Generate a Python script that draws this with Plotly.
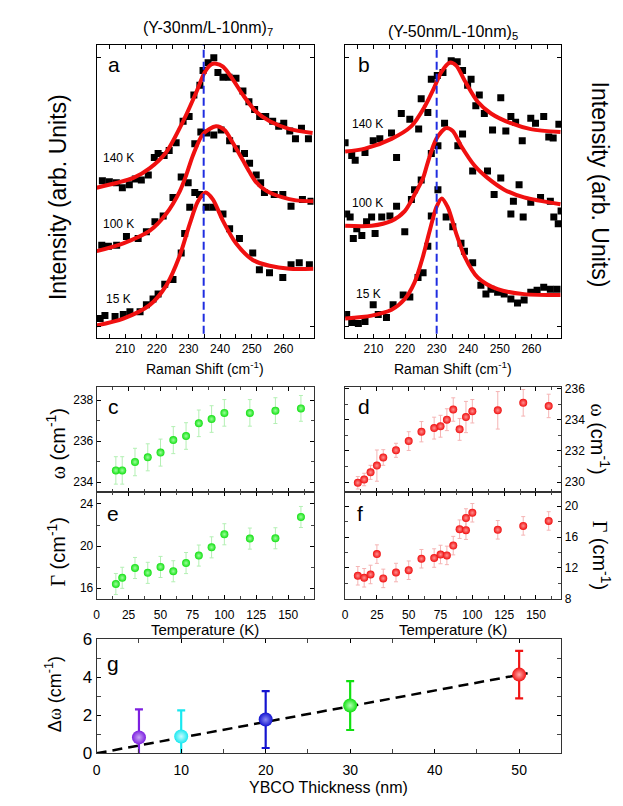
import plotly.graph_objects as go

# ---------------- data ----------------
# panel a : (Y-30nm/L-10nm)7 Raman spectra, offset vertically (arb. units)
a_x_140 = [202.8, 205.0, 207.2, 209.1, 211.3, 213.2, 215.1, 217.3, 219.2, 220.4, 222.3, 223.9,
           226.1, 228.3, 230.2, 231.7, 233.6, 234.6, 236.2, 238.0, 239.3, 240.9, 242.8, 245.0,
           247.2, 249.1, 250.9, 252.5, 254.4, 256.6, 258.5, 260.1, 262.0, 263.8, 265.7, 267.9]
a_y_140 = [1.49, 1.48, 1.47, 1.42, 1.45, 1.51, 1.50, 1.55, 1.73, 1.77, 1.75, 1.80,
           1.88, 2.10, 2.15, 2.37, 2.47, 2.62, 2.70, 2.75, 2.60, 2.55, 2.55, 2.54,
           2.41, 2.30, 2.22, 2.15, 2.15, 2.10, 2.05, 2.08, 2.00, 1.92, 2.03, 1.92]
a_x_100 = [202.6, 204.7, 207.3, 210.4, 214.1, 216.7, 219.4, 222.0, 225.1, 227.7, 229.9, 232.0,
           233.9, 235.8, 238.0, 240.3, 243.0, 245.1, 247.7, 249.3, 251.4, 252.8, 254.0, 257.1,
           259.8, 262.4, 266.0, 268.7]
a_y_100 = [0.83, 0.82, 0.83, 0.92, 0.90, 0.97, 1.07, 1.13, 1.32, 1.53, 1.47, 1.87,
           1.99, 1.98, 1.96, 2.01, 1.90, 1.82, 1.77, 1.67, 1.55, 1.47, 1.37, 1.35,
           1.35, 1.23, 1.30, 1.28]
a_x_15 = [202.1, 203.6, 206.8, 209.4, 211.5, 214.7, 216.7, 218.8, 220.4, 222.5, 225.1, 227.7,
          228.8, 230.4, 232.0, 233.5, 235.6, 237.7, 240.9, 243.0, 246.1, 250.3, 252.4, 255.6,
          259.8, 262.4, 265.0, 268.2]
a_y_15 = [0.08, 0.11, 0.10, 0.12, 0.15, 0.15, 0.22, 0.28, 0.33, 0.43, 0.48, 0.75,
          0.95, 1.22, 1.37, 1.35, 1.22, 1.22, 1.15, 1.00, 0.90, 0.75, 0.58, 0.55,
          0.50, 0.63, 0.65, 0.63]

a_fit_x_140 = [201.0, 212.6, 217.8, 222.9, 228.3, 232.5, 235.1, 237.1, 238.7, 240.9, 244.0,
               247.2, 251.3, 255.7, 262.0, 269.2]
a_fit_y_140 = [1.42, 1.52, 1.62, 1.78, 2.10, 2.40, 2.60, 2.68, 2.69, 2.66, 2.53,
               2.37, 2.20, 2.10, 2.02, 1.98]
a_fit_x_100 = [201.0, 209.4, 217.8, 222.9, 227.2, 229.3, 231.4, 234.6, 238.7, 241.4, 244.0,
               247.2, 249.3, 251.3, 254.5, 259.8, 264.0, 269.5]
a_fit_y_100 = [0.77, 0.85, 0.98, 1.15, 1.38, 1.55, 1.75, 1.97, 2.05, 2.01, 1.88,
               1.70, 1.58, 1.48, 1.39, 1.32, 1.29, 1.28]
a_fit_x_15 = [201.0, 209.4, 217.8, 223.0, 227.2, 230.4, 233.0, 235.4, 237.7, 240.9, 245.0,
              250.3, 255.6, 261.9, 269.5]
a_fit_y_15 = [0.01, 0.08, 0.22, 0.42, 0.72, 1.05, 1.28, 1.37, 1.30, 1.08, 0.85,
              0.68, 0.62, 0.59, 0.59]

# panel b : (Y-50nm/L-10nm)5
b_x_140 = [201.0, 203.1, 204.2, 207.3, 209.9, 212.0, 215.7, 217.3, 218.8, 221.5, 224.3, 225.1,
           227.2, 228.3, 230.2, 232.0, 234.6, 236.5, 238.2, 239.8, 240.9, 242.4, 243.5, 245.1,
           247.7, 250.3, 251.9, 253.5, 255.0, 257.1, 259.8, 261.3, 263.9, 265.5, 266.9, 268.7]
b_y_140 = [1.88, 1.75, 1.70, 1.78, 1.90, 1.92, 1.98, 1.73, 2.18, 2.12, 2.02, 2.33,
           2.19, 2.53, 2.57, 2.60, 2.72, 2.71, 2.62, 2.47, 2.53, 2.26, 2.37, 2.18,
           2.01, 2.34, 2.00, 2.15, 2.09, 1.90, 2.13, 2.08, 2.15, 1.94, 1.93, 2.07]
b_x_100 = [201.5, 202.6, 203.6, 204.7, 206.3, 207.8, 209.4, 210.5, 212.6, 215.2, 217.3, 219.9,
           222.0, 223.0, 225.1, 228.3, 230.4, 232.5, 236.7, 238.2, 241.4, 246.1, 248.2, 250.3,
           253.5, 254.3, 256.1, 257.4, 259.8, 262.9, 266.0, 267.1, 268.5, 269.4]
b_y_100 = [1.15, 1.12, 0.90, 1.00, 0.93, 1.07, 1.12, 0.95, 1.12, 1.13, 1.23, 0.97,
           1.30, 1.40, 1.50, 1.77, 1.85, 2.08, 1.85, 1.97, 1.59, 1.59, 1.35, 1.52,
           1.15, 1.28, 1.45, 1.12, 1.27, 1.32, 1.28, 1.12, 1.05, 1.18]
b_x_15 = [201.5, 203.1, 205.2, 207.3, 209.9, 211.5, 214.1, 216.2, 219.4, 221.5, 224.1, 225.7,
          227.2, 228.3, 230.4, 233.0, 235.1, 237.7, 238.8, 241.4, 244.0, 245.6, 247.2, 249.3,
          251.4, 253.5, 255.6, 257.7, 259.8, 261.8, 263.9, 266.0, 268.1]
b_y_15 = [0.12, 0.04, 0.03, 0.05, 0.22, 0.12, 0.09, 0.22, 0.32, 0.30, 0.50, 0.55,
          0.82, 1.13, 1.40, 1.12, 1.02, 0.85, 0.77, 0.65, 0.42, 0.33, 0.38, 0.35,
          0.33, 0.28, 0.24, 0.27, 0.35, 0.37, 0.40, 0.38, 0.38]

b_fit_x_140 = [201.0, 207.3, 215.7, 222.0, 226.2, 229.3, 231.4, 234.1, 236.2, 238.8, 243.0,
               247.2, 253.5, 259.8, 269.2]
b_fit_y_140 = [1.79, 1.82, 1.92, 2.05, 2.25, 2.45, 2.60, 2.70, 2.67, 2.52, 2.30,
               2.18, 2.08, 2.02, 1.99]
b_fit_x_100 = [201.0, 209.4, 215.7, 219.9, 223.0, 225.7, 227.2, 229.9, 233.0, 235.1, 237.7,
               241.9, 246.1, 251.4, 257.7, 269.2]
b_fit_y_100 = [1.03, 1.03, 1.08, 1.18, 1.35, 1.52, 1.68, 1.92, 2.03, 2.00, 1.85,
               1.65, 1.52, 1.40, 1.32, 1.25]
b_fit_x_15 = [201.0, 209.4, 215.7, 219.9, 223.0, 225.7, 227.8, 229.9, 231.6, 233.5, 236.2,
              238.8, 243.0, 249.3, 257.7, 269.2]
b_fit_y_15 = [0.08, 0.11, 0.17, 0.28, 0.45, 0.72, 0.98, 1.22, 1.31, 1.22, 0.95,
              0.72, 0.50, 0.38, 0.33, 0.32]

a_ref_line = 234.8   # blue dashed reference, panel a
b_ref_line = 230.0   # blue dashed reference, panel b

# panels c / e : Y-30nm sample
ce_temp = [15, 20, 30, 40, 50, 60, 70, 80, 90, 100, 120, 140, 160]
c_omega = [234.57, 234.57, 234.98, 235.21, 235.44, 236.05, 236.25, 236.87, 237.08, 237.38,
           237.38, 237.49, 237.60]
c_omega_err = [0.67, 0.67, 0.67, 0.66, 0.66, 0.66, 0.65, 0.65, 0.65, 0.65, 0.65, 0.63, 0.63]
e_gamma = [16.40, 16.99, 17.92, 17.46, 18.02, 17.61, 18.39, 19.10, 19.88, 21.12, 20.71, 20.74,
           22.76]
e_gamma_err = [1.0] * 13

# panels d / f : Y-50nm sample
d_temp = [10, 15, 20, 25, 30, 40, 50, 60, 70, 75, 80, 85, 90, 95, 100, 120, 140, 160]
d_omega = [229.96, 230.17, 230.63, 231.06, 231.58, 232.04, 232.63, 233.23, 233.46, 233.58,
           234.00, 234.65, 233.38, 234.17, 234.54, 234.60, 235.08, 234.88]
d_omega_err = [0.4, 0.4, 0.45, 1.0, 0.5, 0.45, 0.6, 0.65, 0.7, 0.7, 0.7, 0.75, 0.7, 1.0, 0.75,
               1.2, 0.85, 0.75]
f_temp = [10, 15, 20, 25, 30, 40, 50, 60, 70, 75, 80, 85, 90, 95, 95, 100, 120, 140, 160]
f_gamma = [10.98, 10.72, 11.15, 13.79, 10.64, 11.40, 11.70, 13.19, 13.28, 13.74, 13.62, 14.89,
           17.02, 18.47, 16.89, 19.15, 16.94, 17.45, 18.09]
f_gamma_err = [1.2] * 19

# panel g : phonon shift vs YBCO thickness
g_thick = [5, 10, 20, 30, 50]
g_shift = [0.84, 0.89, 1.78, 2.52, 4.15]
g_err = [1.48, 1.37, 1.50, 1.29, 1.25]
g_colors = ["#7d1fe0", "#19e8f0", "#1414d0", "#10e010", "#f01414"]
g_centers = ["#c9a6f5", "#c8fbff", "#8a8af5", "#b4ffb4", "#ffa8a8"]
g_fit_x = [0, 51]
g_fit_y = [0, 4.22]

# ---------------- layout helpers ----------------
W, H = 623, 806
def fx(p):
    return p / W
def fy(p):
    return 1 - p / H

FONT = "Liberation Sans, Arial, sans-serif"
tickfont = dict(family=FONT, size=12, color="black")

def frame(**kw):
    d = dict(showline=True, linecolor="black", linewidth=1, mirror="ticks",
             ticks="inside", ticklen=4, tickcolor="black", tickwidth=1,
             showgrid=False, zeroline=False, tickfont=tickfont)
    d.update(kw)
    return d

fig = go.Figure()

def spectra(xs, ys, xa, ya):
    fig.add_trace(go.Scatter(x=xs, y=ys, mode="markers", xaxis=xa, yaxis=ya,
                             marker=dict(symbol="square", size=7, color="black"),
                             showlegend=False))

def fit(xs, ys, xa, ya):
    fig.add_trace(go.Scatter(x=xs, y=ys, mode="lines", xaxis=xa, yaxis=ya,
                             line=dict(color="#f01010", width=4, shape="spline", smoothing=0.8),
                             showlegend=False))

spectra(a_x_140, a_y_140, "x", "y")
spectra(a_x_100, a_y_100, "x", "y")
spectra(a_x_15, a_y_15, "x", "y")
fit(a_fit_x_140, a_fit_y_140, "x", "y")
fit(a_fit_x_100, a_fit_y_100, "x", "y")
fit(a_fit_x_15, a_fit_y_15, "x", "y")

spectra(b_x_140, b_y_140, "x2", "y2")
spectra(b_x_100, b_y_100, "x2", "y2")
spectra(b_x_15, b_y_15, "x2", "y2")
fit(b_fit_x_140, b_fit_y_140, "x2", "y2")
fit(b_fit_x_100, b_fit_y_100, "x2", "y2")
fit(b_fit_x_15, b_fit_y_15, "x2", "y2")

for xv, xa, ya in [(a_ref_line, "x", "y"), (b_ref_line, "x2", "y2")]:
    fig.add_trace(go.Scatter(x=[xv, xv], y=[-0.2, 3.0], mode="lines", xaxis=xa, yaxis=ya,
                             line=dict(color="#1f2de0", width=2, dash="8px,4px"),
                             showlegend=False))

def dots(xs, ys, err, color, center, errcolor, xa, ya):
    fig.add_trace(go.Scatter(
        x=xs, y=ys, mode="markers", xaxis=xa, yaxis=ya, showlegend=False,
        marker=dict(size=8, color=color, line=dict(width=0),
                    gradient=dict(type="radial", color=center)),
        error_y=dict(type="data", array=err, color=errcolor, thickness=1, width=2)))

dots(ce_temp, c_omega, c_omega_err, "#14e014", "#9cff9c", "#b4f0b4", "x3", "y3")
dots(ce_temp, e_gamma, e_gamma_err, "#14e014", "#9cff9c", "#b4f0b4", "x5", "y5")
dots(d_temp, d_omega, d_omega_err, "#f01010", "#ff9090", "#f5b4b4", "x4", "y4")
dots(f_temp, f_gamma, f_gamma_err, "#f01010", "#ff9090", "#f5b4b4", "x6", "y6")

fig.add_trace(go.Scatter(x=g_fit_x, y=g_fit_y, mode="lines", xaxis="x7", yaxis="y7",
                         line=dict(color="black", width=2.5, dash="10px,6px"),
                         showlegend=False))
for t, s, e, c, cc in zip(g_thick, g_shift, g_err, g_colors, g_centers):
    fig.add_trace(go.Scatter(
        x=[t], y=[s], mode="markers", xaxis="x7", yaxis="y7", showlegend=False,
        marker=dict(size=14, color=c, line=dict(width=0),
                    gradient=dict(type="radial", color=cc)),
        error_y=dict(type="data", array=[e], color=c, thickness=2.2, width=4)))

spec_x = dict(range=[201, 269.5], tick0=200, dtick=10,
              minor=dict(dtick=5, ticks="inside", ticklen=4, tickcolor="black"))
spec_y = dict(range=[-0.12, 2.88], tickvals=[0, 2.75], showticklabels=False)
temp_x = dict(range=[0, 170], tick0=0, dtick=25,
              minor=dict(dtick=12.5, ticks="inside", ticklen=3, tickcolor="#444"))

fig.update_layout(
    width=W, height=H, margin=dict(l=0, r=0, t=0, b=0),
    paper_bgcolor="white", plot_bgcolor="white", showlegend=False,
    font=dict(family=FONT, color="black"),
    xaxis=frame(domain=[fx(93.3), fx(311.5)], anchor="y", **spec_x),
    yaxis=frame(domain=[fy(337), fy(37)], anchor="x", **spec_y),
    xaxis2=frame(domain=[fx(343.3), fx(561)], anchor="y2", **spec_x),
    yaxis2=frame(domain=[fy(337), fy(37)], anchor="x2", **spec_y),
    xaxis3=frame(domain=[fx(93.3), fx(311.7)], anchor="y3", matches="x5",
                 showticklabels=False, linecolor="#333", **temp_x),
    yaxis3=frame(domain=[fy(495), fy(387)], anchor="x3", range=[233.5, 238.65],
                 dtick=2, linecolor="#333",
                 minor=dict(dtick=1, ticks="inside", ticklen=3, tickcolor="#444")),
    xaxis5=frame(domain=[fx(93.3), fx(311.7)], anchor="y5", linecolor="#333",
                 ticklabelstandoff=5, **temp_x),
    yaxis5=frame(domain=[fy(604), fy(495)], anchor="x5", range=[15, 25.1],
                 tick0=0, dtick=4, linecolor="#333",
                 minor=dict(dtick=2, ticks="inside", ticklen=3, tickcolor="#444")),
    xaxis4=frame(domain=[fx(343.3), fx(561)], anchor="y4", matches="x6",
                 showticklabels=False, linecolor="#333", **temp_x),
    yaxis4=frame(domain=[fy(495), fy(387)], anchor="x4", side="right",
                 range=[229.35, 236.1], dtick=2, linecolor="#333",
                 minor=dict(dtick=1, ticks="inside", ticklen=3, tickcolor="#444")),
    xaxis6=frame(domain=[fx(343.3), fx(561)], anchor="y6", linecolor="#333",
                 ticklabelstandoff=5, **temp_x),
    yaxis6=frame(domain=[fy(604), fy(495)], anchor="x6", side="right",
                 range=[8, 21.8], tick0=0, dtick=4, linecolor="#333",
                 minor=dict(dtick=2, ticks="inside", ticklen=3, tickcolor="#444")),
    xaxis7=frame(domain=[fx(93.3), fx(561)], anchor="y7", range=[0, 55], dtick=10,
                 linecolor="#333", ticklabelstandoff=4,
                 tickfont=dict(family=FONT, size=14, color="black"),
                 minor=dict(dtick=5, ticks="inside", ticklen=4, tickcolor="#444")),
    yaxis7=frame(domain=[fy(762.3), fy(645.7)], anchor="x7", range=[0, 6], dtick=2,
                 linecolor="#333", tickfont=dict(family=FONT, size=17, color="black"),
                 minor=dict(dtick=1, ticks="inside", ticklen=4, tickcolor="#444")),
)

def label(x, y, text, size, angle=0):
    fig.add_annotation(x=fx(x), y=fy(y), xref="paper", yref="paper", text=text,
                       showarrow=False, textangle=angle, xanchor="center", yanchor="middle",
                       borderpad=0, font=dict(family=FONT, size=size, color="black"))

# titles
label(205, 20, "(Y-30nm/L-10nm)<sub>7</sub>", 16)
label(452, 24, "(Y-50nm/L-10nm)<sub>5</sub>", 16)
# panel letters
for x, y, t in [(111, 57, "a"), (362, 57, "b"), (110, 407, "c"), (362, 407, "d"),
                (110, 517, "e"), (358, 517, "f"), (110, 670, "g")]:
    label(x, y, t, 21)
# temperature tags
for x, y, t in [(115, 153, "140 K"), (115, 220, "100 K"), (115, 297, "15 K"),
                (366, 118, "140 K"), (366, 199, "100 K"), (367, 292, "15 K")]:
    label(x, y, t, 12)
# axis titles
label(55, 193, "Intensity (arb. Units)", 23, -90)
label(600, 180, "Intensity (arb. Units)", 23, 90)
label(202, 368, "Raman Shift (cm<sup>-1</sup>)", 14)
label(452, 368, "Raman Shift (cm<sup>-1</sup>)", 14)
label(202, 635, "Temperature (K)", 15)
label(452, 635, "Temperature (K)", 15)
label(327, 797, "YBCO Thickness (nm)", 16)
sym = "<span style='font-family:Liberation Serif'>%s</span>"
label(52, 445, sym % "ω" + " (cm<sup>-1</sup>)", 20, -90)
label(53, 556, sym % "Γ" + " (cm<sup>-1</sup>)", 20, -90)
label(600, 440, sym % "ω" + " (cm<sup>-1</sup>)", 20, 90)
label(601, 560, sym % "Γ" + " (cm<sup>-1</sup>)", 20, 90)
label(50, 702, "Δ" + sym % "ω" + " (cm<sup>-1</sup>)", 18, -90)

fig.write_html("out.html", config={"displayModeBar": False},
               post_script="document.body.style.margin='0';")
